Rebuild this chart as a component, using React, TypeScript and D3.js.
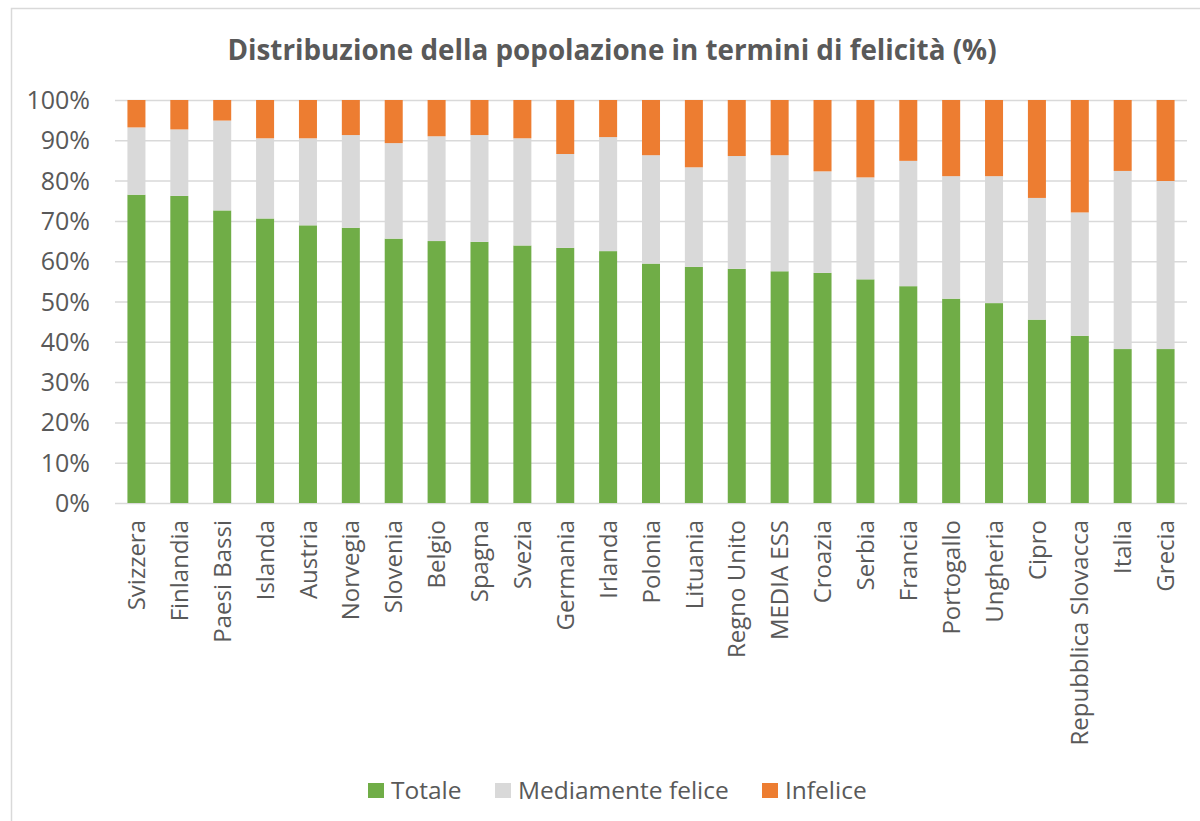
import { useEffect, useRef } from "react";
import * as d3 from "d3";

const countries = [
  "Svizzera", "Finlandia", "Paesi Bassi", "Islanda", "Austria", "Norvegia", "Slovenia",
  "Belgio", "Spagna", "Svezia", "Germania", "Irlanda", "Polonia", "Lituania", "Regno Unito",
  "MEDIA ESS", "Croazia", "Serbia", "Francia", "Portogallo", "Ungheria", "Cipro",
  "Repubblica Slovacca", "Italia", "Grecia"
];

const totale = [
  76.5, 76.2, 72.6, 70.6, 68.9, 68.3, 65.6, 65.0, 64.8, 63.9, 63.3, 62.5, 59.4,
  58.6, 58.1, 57.5, 57.1, 55.5, 53.8, 50.7, 49.6, 45.5, 41.5, 38.2, 38.2
];

const mediamente = [
  16.7, 16.5, 22.3, 19.9, 21.6, 23.0, 23.7, 26.0, 26.5, 26.6, 23.3, 28.3, 26.9,
  24.7, 28.0, 28.8, 25.2, 25.3, 31.1, 30.4, 31.5, 30.2, 30.6, 44.2, 41.7
];

const infelice = [
  6.8, 7.3, 5.1, 9.5, 9.5, 8.7, 10.7, 9.0, 8.7, 9.5, 13.4, 9.2, 13.7,
  16.7, 13.9, 13.7, 17.7, 19.2, 15.1, 18.9, 18.9, 24.3, 27.9, 17.6, 20.1
];

const yTicks = [0, 10, 20, 30, 40, 50, 60, 70, 80, 90, 100];

const seriesKeys = ["Totale", "Mediamente felice", "Infelice"];
const seriesColors = ["#70AD47", "#D9D9D9", "#ED7D31"];

const W = 1200, H = 821;
const m = { l: 115, r: 13, t: 100, b: 318 };
const FONT = "'Open Sans', sans-serif";
const TXT = "#595959";

export default function App() {
  const ref = useRef<SVGSVGElement | null>(null);

  useEffect(() => {
    const svg = d3.select(ref.current);
    svg.selectAll("*").remove();

    svg.append("rect")
      .attr("x", 0).attr("y", 0).attr("width", W).attr("height", H)
      .attr("fill", "white");

    // chart border (cropped screenshot)
    svg.append("rect")
      .attr("x", 11.5).attr("y", 8.5).attr("width", W + 20).attr("height", H + 20)
      .attr("fill", "none").attr("stroke", "#D9D9D9").attr("stroke-width", 1.5);

    const rows = countries.map((c, i) => ({
      name: c,
      [seriesKeys[0]]: totale[i],
      [seriesKeys[1]]: mediamente[i],
      [seriesKeys[2]]: infelice[i]
    }));

    const x = d3.scaleBand<string>()
      .domain(countries)
      .range([m.l, W - m.r])
      .paddingInner(0.58)
      .paddingOuter(0.29);

    const y = d3.scaleLinear()
      .domain([0, 100])
      .range([H - m.b, m.t]);

    const color = d3.scaleOrdinal<string, string>().domain(seriesKeys).range(seriesColors);

    // title
    svg.append("text")
      .attr("x", 612).attr("y", 60)
      .attr("text-anchor", "middle")
      .attr("font-family", FONT)
      .attr("font-weight", 700)
      .attr("font-size", 27.8)
      .attr("fill", TXT)
      .text("Distribuzione della popolazione in termini di felicità (%)");

    // grid
    const gy = d3.axisLeft(y).tickValues(yTicks).tickSize(-(W - m.l - m.r)).tickFormat(() => "");
    svg.append("g")
      .attr("transform", `translate(${m.l},0)`)
      .call(gy as any)
      .call((g: any) => g.selectAll("line").attr("stroke", "#D9D9D9").attr("stroke-width", 1.5))
      .call((g: any) => g.select(".domain").remove());

    // y labels
    svg.append("g")
      .selectAll("text")
      .data(yTicks)
      .enter()
      .append("text")
      .attr("x", 90)
      .attr("y", d => y(d))
      .attr("dy", "0.36em")
      .attr("text-anchor", "end")
      .attr("font-family", FONT)
      .attr("font-size", 25)
      .attr("fill", TXT)
      .text(d => `${d}%`);

    // bars
    const stacked = d3.stack<any>().keys(seriesKeys)(rows);
    svg.append("g")
      .selectAll("g")
      .data(stacked)
      .enter()
      .append("g")
      .attr("fill", d => color(d.key))
      .selectAll("rect")
      .data(d => d)
      .enter()
      .append("rect")
      .attr("x", d => x(d.data.name)!)
      .attr("width", x.bandwidth())
      .attr("y", d => y(d[1]))
      .attr("height", d => y(d[0]) - y(d[1]));

    // x labels
    svg.append("g")
      .selectAll("text")
      .data(countries)
      .enter()
      .append("text")
      .attr("transform", d => `translate(${x(d)! + x.bandwidth() / 2},520) rotate(-90)`)
      .attr("dy", "0.36em")
      .attr("text-anchor", "end")
      .attr("font-family", FONT)
      .attr("font-size", 24)
      .attr("fill", TXT)
      .text(d => d);

    // legend
    const legendX = [368, 495, 762];
    const lg = svg.append("g");
    seriesKeys.forEach((k, i) => {
      lg.append("rect")
        .attr("x", legendX[i]).attr("y", 783)
        .attr("width", 16).attr("height", 15)
        .attr("fill", color(k));
      lg.append("text")
        .attr("x", legendX[i] + 23).attr("y", 799)
        .attr("font-family", FONT)
        .attr("font-size", 24.5)
        .attr("fill", TXT)
        .text(k);
    });
  }, []);

  return (
    <svg
      ref={ref}
      width={W}
      height={H}
      viewBox={`0 0 ${W} ${H}`}
      style={{ position: "fixed", left: 0, top: 0, display: "block" }}
    />
  );
}
